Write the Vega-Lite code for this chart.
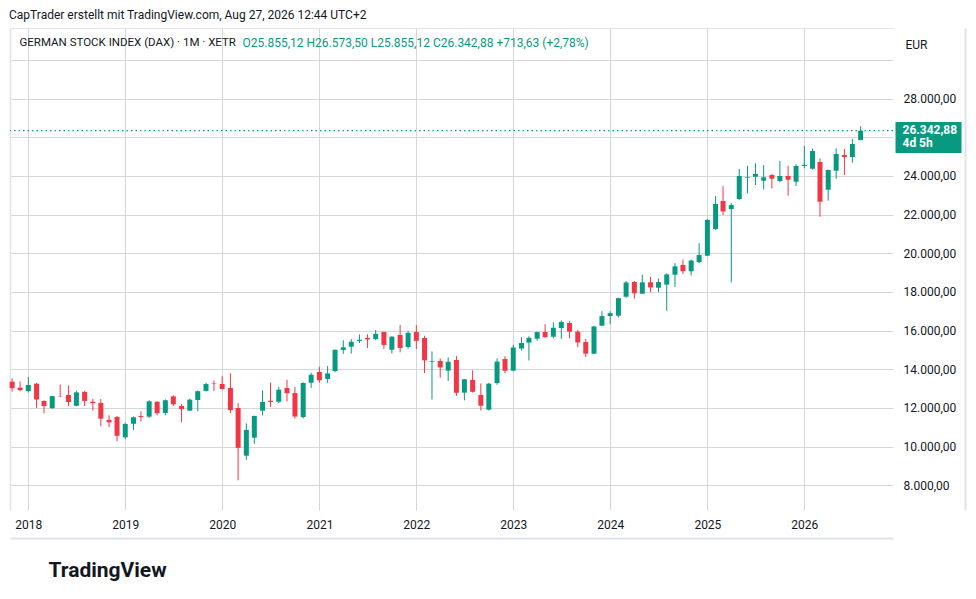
{
  "$schema": "https://vega.github.io/schema/vega-lite/v6.json",
  "width": 883,
  "height": 482,
  "autosize": {"type": "none"},
  "padding": {"left": 10, "top": 28, "right": 83, "bottom": 89},
  "background": "white",
  "config": {
    "locale": {"number": {"decimal": ",", "thousands": ".", "grouping": [3], "currency": ["", " €"]}},
    "view": {"stroke": null},
    "font": "Roboto",
    "axis": {"labelFont": "Roboto", "titleFont": "Roboto"},
    "title": {"font": "Roboto"}
  },
  "title": {
    "text": "CapTrader erstellt mit TradingView.com, Aug 27, 2026 12:44 UTC+2",
    "anchor": "start",
    "frame": "group",
    "fontSize": 12,
    "fontWeight": "normal",
    "color": "#131722",
    "baseline": "alphabetic",
    "offset": -3,
    "dx": -1
  },
  "data": {
    "values": [
      {"d": "2017-11-01", "o": 13360, "h": 13526, "l": 12844, "c": 13024},
      {"d": "2017-12-01", "o": 13050, "h": 13374, "l": 12862, "c": 12918},
      {"d": "2018-01-01", "o": 12871, "h": 13597, "l": 12800, "c": 13189},
      {"d": "2018-02-01", "o": 13254, "h": 13300, "l": 12003, "c": 12436},
      {"d": "2018-03-01", "o": 12360, "h": 12400, "l": 11727, "c": 12097},
      {"d": "2018-04-01", "o": 11990, "h": 12626, "l": 11950, "c": 12612},
      {"d": "2018-05-01", "o": 12620, "h": 13205, "l": 12560, "c": 12604},
      {"d": "2018-06-01", "o": 12670, "h": 13170, "l": 12104, "c": 12306},
      {"d": "2018-07-01", "o": 12110, "h": 12890, "l": 12080, "c": 12806},
      {"d": "2018-08-01", "o": 12830, "h": 12887, "l": 12105, "c": 12364},
      {"d": "2018-09-01", "o": 12320, "h": 12457, "l": 11865, "c": 12247},
      {"d": "2018-10-01", "o": 12256, "h": 12460, "l": 11051, "c": 11447},
      {"d": "2018-11-01", "o": 11380, "h": 11620, "l": 11010, "c": 11257},
      {"d": "2018-12-01", "o": 11530, "h": 11580, "l": 10279, "c": 10559},
      {"d": "2019-01-01", "o": 10480, "h": 11230, "l": 10386, "c": 11173},
      {"d": "2019-02-01", "o": 11180, "h": 11560, "l": 10863, "c": 11516},
      {"d": "2019-03-01", "o": 11580, "h": 11823, "l": 11300, "c": 11526},
      {"d": "2019-04-01", "o": 11550, "h": 12400, "l": 11480, "c": 12344},
      {"d": "2019-05-01", "o": 12320, "h": 12340, "l": 11620, "c": 11727},
      {"d": "2019-06-01", "o": 11740, "h": 12440, "l": 11620, "c": 12399},
      {"d": "2019-07-01", "o": 12600, "h": 12656, "l": 12100, "c": 12189},
      {"d": "2019-08-01", "o": 12100, "h": 12200, "l": 11266, "c": 11939},
      {"d": "2019-09-01", "o": 11860, "h": 12480, "l": 11840, "c": 12428},
      {"d": "2019-10-01", "o": 12410, "h": 12900, "l": 11830, "c": 12867},
      {"d": "2019-11-01", "o": 12880, "h": 13300, "l": 12850, "c": 13236},
      {"d": "2019-12-01", "o": 13270, "h": 13425, "l": 12888, "c": 13249},
      {"d": "2020-01-01", "o": 13240, "h": 13640, "l": 12948, "c": 12981},
      {"d": "2020-02-01", "o": 13030, "h": 13795, "l": 11725, "c": 11890},
      {"d": "2020-03-01", "o": 11997, "h": 12250, "l": 8256, "c": 9936},
      {"d": "2020-04-01", "o": 9530, "h": 11200, "l": 9310, "c": 10862},
      {"d": "2020-05-01", "o": 10460, "h": 11600, "l": 10140, "c": 11587},
      {"d": "2020-06-01", "o": 11860, "h": 12913, "l": 11610, "c": 12311},
      {"d": "2020-07-01", "o": 12375, "h": 13314, "l": 12060, "c": 12313},
      {"d": "2020-08-01", "o": 12320, "h": 13100, "l": 12250, "c": 12945},
      {"d": "2020-09-01", "o": 13030, "h": 13460, "l": 12340, "c": 12761},
      {"d": "2020-10-01", "o": 12770, "h": 13080, "l": 11450, "c": 11556},
      {"d": "2020-11-01", "o": 11530, "h": 13330, "l": 11450, "c": 13291},
      {"d": "2020-12-01", "o": 13305, "h": 13819, "l": 13040, "c": 13719},
      {"d": "2021-01-01", "o": 13860, "h": 14131, "l": 13310, "c": 13433},
      {"d": "2021-02-01", "o": 13500, "h": 14169, "l": 13300, "c": 13786},
      {"d": "2021-03-01", "o": 13910, "h": 15020, "l": 13850, "c": 15008},
      {"d": "2021-04-01", "o": 15000, "h": 15502, "l": 14800, "c": 15136},
      {"d": "2021-05-01", "o": 15170, "h": 15568, "l": 14816, "c": 15421},
      {"d": "2021-06-01", "o": 15470, "h": 15803, "l": 15359, "c": 15531},
      {"d": "2021-07-01", "o": 15618, "h": 15810, "l": 15100, "c": 15544},
      {"d": "2021-08-01", "o": 15567, "h": 16030, "l": 15500, "c": 15835},
      {"d": "2021-09-01", "o": 15929, "h": 15956, "l": 15050, "c": 15261},
      {"d": "2021-10-01", "o": 15013, "h": 15700, "l": 14819, "c": 15689},
      {"d": "2021-11-01", "o": 15774, "h": 16290, "l": 14880, "c": 15100},
      {"d": "2021-12-01", "o": 15153, "h": 16000, "l": 15060, "c": 15885},
      {"d": "2022-01-01", "o": 15930, "h": 16285, "l": 15047, "c": 15471},
      {"d": "2022-02-01", "o": 15618, "h": 15736, "l": 13808, "c": 14461},
      {"d": "2022-03-01", "o": 14380, "h": 14925, "l": 12439, "c": 14415},
      {"d": "2022-04-01", "o": 14428, "h": 14560, "l": 13565, "c": 14098},
      {"d": "2022-05-01", "o": 13930, "h": 14620, "l": 13400, "c": 14388},
      {"d": "2022-06-01", "o": 14480, "h": 14690, "l": 12621, "c": 12784},
      {"d": "2022-07-01", "o": 12790, "h": 13500, "l": 12390, "c": 13484},
      {"d": "2022-08-01", "o": 13450, "h": 13948, "l": 12800, "c": 12835},
      {"d": "2022-09-01", "o": 12669, "h": 13268, "l": 11863, "c": 12114},
      {"d": "2022-10-01", "o": 11910, "h": 13300, "l": 11869, "c": 13254},
      {"d": "2022-11-01", "o": 13290, "h": 14560, "l": 13200, "c": 14397},
      {"d": "2022-12-01", "o": 14530, "h": 14675, "l": 13791, "c": 13924},
      {"d": "2023-01-01", "o": 13927, "h": 15270, "l": 13900, "c": 15128},
      {"d": "2023-02-01", "o": 15070, "h": 15658, "l": 14980, "c": 15365},
      {"d": "2023-03-01", "o": 15380, "h": 15706, "l": 14458, "c": 15629},
      {"d": "2023-04-01", "o": 15583, "h": 15950, "l": 15478, "c": 15922},
      {"d": "2023-05-01", "o": 15929, "h": 16331, "l": 15630, "c": 15664},
      {"d": "2023-06-01", "o": 15686, "h": 16427, "l": 15600, "c": 16148},
      {"d": "2023-07-01", "o": 16135, "h": 16528, "l": 15575, "c": 16447},
      {"d": "2023-08-01", "o": 16394, "h": 16500, "l": 15600, "c": 15947},
      {"d": "2023-09-01", "o": 15944, "h": 16043, "l": 15136, "c": 15387},
      {"d": "2023-10-01", "o": 15410, "h": 15575, "l": 14630, "c": 14810},
      {"d": "2023-11-01", "o": 14806, "h": 16250, "l": 14780, "c": 16215},
      {"d": "2023-12-01", "o": 16255, "h": 17003, "l": 16250, "c": 16752},
      {"d": "2024-01-01", "o": 16756, "h": 17000, "l": 16345, "c": 16904},
      {"d": "2024-02-01", "o": 16770, "h": 17700, "l": 16680, "c": 17678},
      {"d": "2024-03-01", "o": 17755, "h": 18567, "l": 17700, "c": 18492},
      {"d": "2024-04-01", "o": 18516, "h": 18570, "l": 17650, "c": 17932},
      {"d": "2024-05-01", "o": 17910, "h": 18892, "l": 17900, "c": 18498},
      {"d": "2024-06-01", "o": 18500, "h": 18780, "l": 17990, "c": 18235},
      {"d": "2024-07-01", "o": 18221, "h": 18690, "l": 18000, "c": 18509},
      {"d": "2024-08-01", "o": 18380, "h": 18970, "l": 17024, "c": 18907},
      {"d": "2024-09-01", "o": 18893, "h": 19491, "l": 18250, "c": 19325},
      {"d": "2024-10-01", "o": 19395, "h": 19675, "l": 18930, "c": 19078},
      {"d": "2024-11-01", "o": 19069, "h": 19670, "l": 18850, "c": 19626},
      {"d": "2024-12-01", "o": 19550, "h": 20523, "l": 19500, "c": 19909},
      {"d": "2025-01-01", "o": 19876, "h": 21780, "l": 19850, "c": 21732},
      {"d": "2025-02-01", "o": 21257, "h": 22964, "l": 21200, "c": 22551},
      {"d": "2025-03-01", "o": 22705, "h": 23476, "l": 21980, "c": 22163},
      {"d": "2025-04-01", "o": 22290, "h": 22600, "l": 18490, "c": 22497},
      {"d": "2025-05-01", "o": 22809, "h": 24361, "l": 22760, "c": 23997},
      {"d": "2025-06-01", "o": 23900, "h": 24532, "l": 23104, "c": 23932},
      {"d": "2025-07-01", "o": 23963, "h": 24656, "l": 23533, "c": 24102},
      {"d": "2025-08-01", "o": 23756, "h": 24568, "l": 23300, "c": 23932},
      {"d": "2025-09-01", "o": 24050, "h": 24100, "l": 23360, "c": 23859},
      {"d": "2025-10-01", "o": 23740, "h": 24775, "l": 23673, "c": 24000},
      {"d": "2025-11-01", "o": 24000, "h": 24532, "l": 22980, "c": 23807},
      {"d": "2025-12-01", "o": 23704, "h": 24604, "l": 23482, "c": 24516},
      {"d": "2026-01-01", "o": 24520, "h": 25551, "l": 24397, "c": 24580},
      {"d": "2026-02-01", "o": 24377, "h": 25432, "l": 24325, "c": 25292},
      {"d": "2026-03-01", "o": 24723, "h": 24915, "l": 21893, "c": 22669},
      {"d": "2026-04-01", "o": 23290, "h": 24330, "l": 22721, "c": 24309},
      {"d": "2026-05-01", "o": 24273, "h": 25432, "l": 23860, "c": 25137},
      {"d": "2026-06-01", "o": 25085, "h": 25396, "l": 24050, "c": 24982},
      {"d": "2026-07-01", "o": 24982, "h": 25913, "l": 24687, "c": 25655},
      {"d": "2026-08-01", "o": 25855.12, "h": 26573.5, "l": 25855.12, "c": 26342.88}
    ]
  },
  "layer": [
    {
      "mark": {"type": "rule", "strokeWidth": 1},
      "encoding": {
        "x": {
          "field": "d", "type": "temporal",
          "scale": {"type": "utc", "padding": 0, "domain": [{"year": 2017, "month": 10, "date": 24, "utc": true}, {"year": 2026, "month": 12, "date": 1, "utc": true}]},
          "axis": {
            "orient": "bottom", "format": "%Y", "tickCount": {"interval": "year", "step": 1},
            "grid": true, "gridColor": "#d6d6d6", "gridWidth": 1,
            "ticks": false, "tickSize": 0, "domain": false,
            "labelPadding": 9, "labelFontSize": 12, "labelColor": "#131722", "labelFlush": false, "labelOverlap": false,
            "title": "TradingView", "titleX": 38, "titleY": 66, "titleAlign": "left", "titleAnchor": null,
            "titleBaseline": "alphabetic", "titleFontSize": 21, "titleFontWeight": "bold", "titleColor": "#131722", "titleLimit": 600
          }
        },
        "y": {
          "field": "l", "type": "quantitative",
          "scale": {"domain": [6720, 31656], "nice": false, "zero": false},
          "axis": {
            "orient": "right", "values": [8000, 10000, 12000, 14000, 16000, 18000, 20000, 22000, 24000, 26000, 28000, 30000],
            "format": ",.2f", "labelExpr": "(datum.value > 29000 || datum.value == 26000) ? '' : datum.label",
            "grid": true, "gridColor": "#d6d6d6", "gridWidth": 1,
            "ticks": false, "tickSize": 0, "domain": false,
            "labelPadding": 10, "labelFontSize": 12, "labelColor": "#131722", "labelAlign": "left", "labelBaseline": "middle", "labelFlush": false, "labelOverlap": false,
            "title": "EUR", "titleAngle": 0, "titleX": 12, "titleY": 16, "titleAlign": "left", "titleAnchor": null,
            "titleBaseline": "middle", "titleFontSize": 12, "titleFontWeight": "normal", "titleColor": "#131722"
          }
        },
        "y2": {"field": "h"},
        "color": {"condition": {"test": "datum.c >= datum.o", "value": "#089981"}, "value": "#f23645"}
      }
    },
    {
      "mark": {"type": "bar", "width": 5},
      "encoding": {
        "x": {
          "field": "d", "type": "temporal",
          "scale": {"type": "utc", "padding": 0, "domain": [{"year": 2017, "month": 10, "date": 24, "utc": true}, {"year": 2026, "month": 12, "date": 1, "utc": true}]},
          "axis": {
            "orient": "top", "labels": false, "ticks": false, "grid": false,
            "domain": true, "domainColor": "#e0e3eb", "domainWidth": 1,
            "title": "GERMAN STOCK INDEX (DAX) · 1M · XETR", "titleX": 9, "titleY": 14, "titleAlign": "left", "titleAnchor": null,
            "titleBaseline": "middle", "titleFontSize": 11.5, "titleFontWeight": "normal", "titleColor": "#131722", "titleLimit": 600
          }
        },
        "y": {
          "field": "o", "type": "quantitative",
          "scale": {"domain": [6720, 31656], "nice": false, "zero": false},
          "axis": {
            "orient": "left", "labels": false, "ticks": false, "grid": false,
            "domain": true, "domainColor": "#e0e3eb", "domainWidth": 1.5,
            "title": "O25.855,12  H26.573,50  L25.855,12  C26.342,88  +713,63 (+2,78%)", "titleX": 232, "titleY": 14, "titleAngle": 0,
            "titleAlign": "left", "titleAnchor": null, "titleBaseline": "middle", "titleFontSize": 12, "titleFontWeight": "normal",
            "titleColor": "#089981", "titleLimit": 600
          }
        },
        "y2": {"field": "c"},
        "color": {"condition": {"test": "datum.c >= datum.o", "value": "#089981"}, "value": "#f23645"}
      }
    },
    {
      "transform": [{"filter": "datum.c > 26000"}],
      "mark": {"type": "rule", "color": "#089981", "strokeWidth": 1.2, "strokeDash": [1.5, 3]},
      "encoding": {
        "y": {
          "field": "c", "type": "quantitative",
          "scale": {"domain": [6720, 31656], "nice": false, "zero": false},
          "axis": {
            "orient": "right", "values": [26342.88], "offset": 2,
            "domain": false, "grid": false,
            "ticks": true, "tickColor": "#089981", "tickWidth": 31, "tickSize": 66, "tickOffset": 6.5,
            "labelExpr": "['26.342,88', '4d 5h']", "labelColor": "white", "labelFontSize": 12, "labelFontWeight": "bold",
            "labelPadding": -59, "labelAlign": "left", "labelBaseline": "middle", "labelLineHeight": 13, "labelOffset": -7.5,
            "labelFlush": false, "labelOverlap": false, "labelBound": false,
            "title": null
          }
        }
      }
    },
    {
      "transform": [{"filter": "datum.c > 26000"}],
      "mark": {"type": "point", "opacity": 0},
      "encoding": {
        "x": {
          "field": "d", "type": "temporal",
          "scale": {"type": "utc", "padding": 0, "domain": [{"year": 2017, "month": 10, "date": 24, "utc": true}, {"year": 2026, "month": 12, "date": 1, "utc": true}]},
          "axis": {
            "orient": "bottom", "offset": 28, "labels": false, "ticks": false, "grid": false,
            "domain": true, "domainColor": "#e0e3eb", "domainWidth": 2, "title": null
          }
        },
        "y": {
          "field": "c", "type": "quantitative",
          "scale": {"domain": [6720, 31656], "nice": false, "zero": false},
          "axis": {
            "orient": "right", "offset": 72, "labels": false, "ticks": false, "grid": false,
            "domain": true, "domainColor": "#e0e3eb", "domainWidth": 2, "title": null
          }
        }
      }
    }
  ],
  "resolve": {"axis": {"x": "independent", "y": "independent"}}
}
